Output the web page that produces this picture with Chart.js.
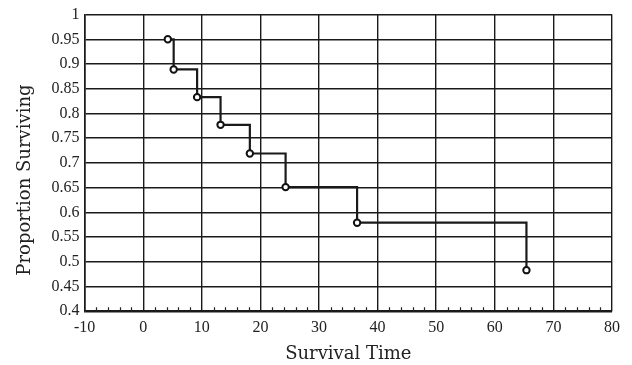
<!DOCTYPE html>
<html>
<head>
<meta charset="utf-8">
<script src="https://cdn.jsdelivr.net/npm/chart.js@4.4.1/dist/chart.umd.min.js"></script>
<style>
  html, body { margin: 0; padding: 0; background: #fff; }
  #wrap { width: 632px; height: 365px; }
</style>
</head>
<body>
<div id="wrap"><canvas id="myChart"></canvas></div>
<script>
// survival times and proportion surviving
const times = [4.2, 5.2, 9.2, 13.2, 18.2, 24.3, 36.5, 65.4];
const surviving = [0.95, 0.889, 0.833, 0.777, 0.719, 0.651, 0.579, 0.483];

const xTicks = [-10, 0, 10, 20, 30, 40, 50, 60, 70, 80];
const yTicks = [0.4, 0.45, 0.5, 0.55, 0.6, 0.65, 0.7, 0.75, 0.8, 0.85, 0.9, 0.95, 1];
const xMinorStep = 2;

const tickFont = "'Liberation Serif', serif";
const titleFont = "'DejaVu Serif', serif";

// small inward ticks along the bottom axis
const minorTicks = {
    id: 'minorTicks',
    afterDraw(chart) {
        const x = chart.scales.x;
        const area = chart.chartArea;
        const ctx = chart.ctx;
        ctx.save();
        ctx.strokeStyle = '#222';
        ctx.lineWidth = 1.2;
        ctx.beginPath();
        for (let v = xTicks[0]; v <= xTicks[xTicks.length - 1]; v += xMinorStep) {
            if (v % 10 === 0) continue;
            const px = Math.round(x.getPixelForValue(v)) + 0.5;
            ctx.moveTo(px, area.bottom);
            ctx.lineTo(px, area.bottom - 4);
        }
        ctx.stroke();
        ctx.restore();
    }
};

function displayChart() {
    const ctx = document.getElementById('myChart');
    new Chart(ctx, {
        type: 'line',
        data: {
            datasets: [{
                data: times.map((t, i) => ({ x: t, y: surviving[i] })),
                stepped: 'before',
                borderColor: '#1a1a1a',
                borderWidth: 2.2,
                pointRadius: 3.2,
                pointBorderWidth: 2,
                pointBackgroundColor: '#fff',
                pointBorderColor: '#111',
                fill: false
            }]
        },
        options: {
            responsive: true,
            maintainAspectRatio: false,
            animation: false,
            layout: { padding: { top: 8, right: 20, left: 10, bottom: 0 } },
            plugins: {
                legend: { display: false },
                tooltip: { enabled: false }
            },
            scales: {
                x: {
                    type: 'linear',
                    min: -10,
                    max: 80,
                    afterBuildTicks: s => { s.ticks = xTicks.map(v => ({ value: v })); },
                    grid: { color: '#1a1a1a', lineWidth: 1.4, drawTicks: false },
                    border: { color: '#1a1a1a', width: 1.6 },
                    ticks: {
                        padding: 7,
                        color: '#222',
                        maxRotation: 0,
                        font: { family: tickFont, size: 16 },
                        callback: v => String(v)
                    },
                    title: {
                        display: true,
                        text: 'Survival Time',
                        color: '#222',
                        font: { family: titleFont, size: 18 },
                        padding: { top: -1, bottom: 0 }
                    }
                },
                y: {
                    type: 'linear',
                    min: 0.4,
                    max: 1,
                    afterBuildTicks: s => { s.ticks = yTicks.map(v => ({ value: v })); },
                    grid: { color: '#1a1a1a', lineWidth: 1.4, drawTicks: false },
                    border: { color: '#1a1a1a', width: 1.6 },
                    ticks: {
                        padding: 5,
                        color: '#222',
                        font: { family: tickFont, size: 16 },
                        callback: v => String(Number(v.toFixed(2)))
                    },
                    title: {
                        display: true,
                        text: 'Proportion Surviving' + '\u00a0'.repeat(6),
                        color: '#222',
                        font: { family: titleFont, size: 18 },
                        padding: { top: 5, bottom: 10 }
                    }
                }
            }
        },
        plugins: [minorTicks]
    });
}

document.addEventListener('DOMContentLoaded', () => {
    displayChart();
});
</script>
</body>
</html>
